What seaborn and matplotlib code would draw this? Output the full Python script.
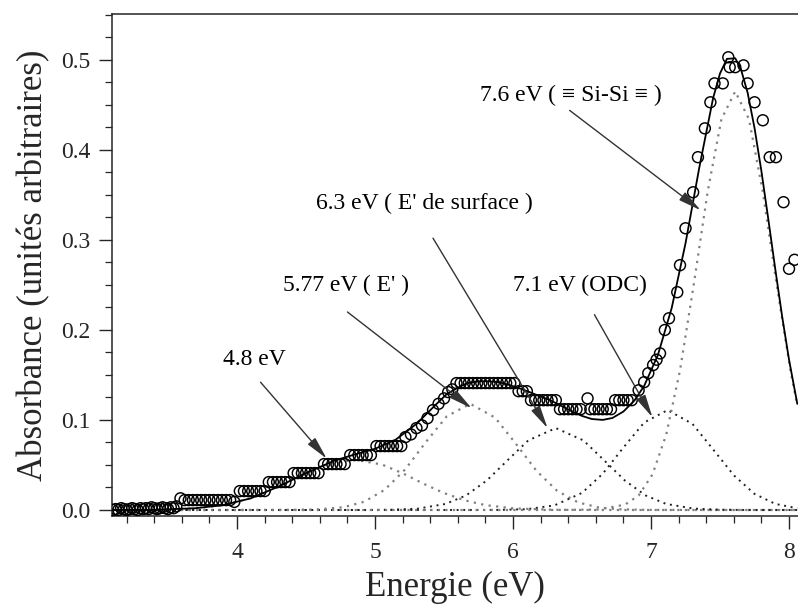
import matplotlib
matplotlib.use("Agg")
import matplotlib.pyplot as plt
from matplotlib.ticker import MultipleLocator, FormatStrFormatter
import seaborn as sns

# measured points (circles)
energy_pts = [3.10, 3.12, 3.14, 3.16, 3.18, 3.20, 3.22, 3.24, 3.26, 3.28, 3.30, 3.32,
              3.34, 3.36, 3.38, 3.40, 3.42, 3.44, 3.46, 3.48, 3.50, 3.52, 3.54, 3.56,
              3.59, 3.62, 3.65, 3.68, 3.71, 3.74, 3.77, 3.80, 3.83, 3.86, 3.89, 3.92, 3.95, 3.98,
              4.02, 4.05, 4.08, 4.11, 4.14, 4.17, 4.20,
              4.23, 4.26, 4.29, 4.32, 4.35, 4.38,
              4.41, 4.44, 4.47, 4.50, 4.53, 4.56, 4.59,
              4.63, 4.66, 4.69, 4.72, 4.75, 4.78,
              4.82, 4.85, 4.88, 4.91, 4.94, 4.97,
              5.01, 5.04, 5.07, 5.10, 5.13, 5.16, 5.19,
              5.22, 5.26, 5.30, 5.34, 5.38, 5.42, 5.46, 5.50, 5.53, 5.56,
              5.59, 5.62, 5.65, 5.68, 5.71, 5.74, 5.77, 5.80, 5.83, 5.86, 5.89, 5.92, 5.95, 5.98, 6.01,
              6.04, 6.07, 6.10,
              6.13, 6.16, 6.19, 6.22, 6.25, 6.28, 6.31,
              6.34, 6.37, 6.40, 6.43, 6.46, 6.49, 6.54,
              6.56, 6.59, 6.62, 6.65, 6.68, 6.71,
              6.74, 6.77, 6.80, 6.83, 6.86,
              6.91, 6.95, 6.98, 7.015, 7.04, 7.065, 7.10, 7.13, 7.19, 7.21, 7.25,
              7.305, 7.34, 7.39, 7.43, 7.46, 7.52, 7.56, 7.57, 7.61, 7.67, 7.70,
              7.75, 7.81, 7.86, 7.905, 7.96, 8.00, 8.04]
absorb_pts = [0.000, 0.001, 0.000, 0.002, 0.001, 0.000, 0.001, 0.002, 0.001, 0.000, 0.002, 0.001,
              0.002, 0.001, 0.003, 0.002, 0.001, 0.002, 0.003, 0.002, 0.001, 0.003, 0.002, 0.004,
              0.013, 0.011, 0.011, 0.011, 0.011, 0.011, 0.011, 0.011, 0.011, 0.011, 0.011, 0.011, 0.011, 0.009,
              0.021, 0.021, 0.021, 0.021, 0.021, 0.021, 0.021,
              0.031, 0.031, 0.031, 0.031, 0.031, 0.031,
              0.041, 0.041, 0.041, 0.041, 0.041, 0.041, 0.041,
              0.051, 0.051, 0.051, 0.051, 0.051, 0.051,
              0.061, 0.061, 0.061, 0.061, 0.061, 0.061,
              0.071, 0.071, 0.071, 0.071, 0.071, 0.071, 0.071,
              0.081, 0.084, 0.091, 0.094, 0.102, 0.111, 0.118, 0.124, 0.131, 0.134,
              0.141, 0.141, 0.141, 0.141, 0.141, 0.141, 0.141, 0.141, 0.141, 0.141, 0.141, 0.141, 0.141, 0.141, 0.141,
              0.132, 0.132, 0.132,
              0.122, 0.122, 0.122, 0.122, 0.122, 0.122, 0.122,
              0.112, 0.112, 0.112, 0.112, 0.112, 0.112, 0.124,
              0.112, 0.112, 0.112, 0.112, 0.112, 0.112,
              0.122, 0.122, 0.122, 0.122, 0.122,
              0.133, 0.142, 0.152, 0.161, 0.167, 0.174, 0.200, 0.213, 0.242, 0.272, 0.313,
              0.353, 0.392, 0.424, 0.453, 0.474, 0.474, 0.503, 0.492, 0.492, 0.494, 0.474,
              0.453, 0.433, 0.392, 0.392, 0.342, 0.268, 0.278]

# fitted total (solid line)
fit_x = [3.1, 3.4, 3.7, 3.9, 4.1, 4.3, 4.5, 4.7, 4.85, 5.0, 5.15, 5.3, 5.45, 5.52, 5.6,
         5.67, 5.75, 5.82, 5.9, 5.97, 6.05, 6.12, 6.2, 6.27, 6.35, 6.42, 6.5, 6.57, 6.65,
         6.72, 6.8, 6.88, 6.95, 7.05, 7.15, 7.25, 7.35, 7.45, 7.5, 7.55, 7.61, 7.65, 7.7,
         7.75, 7.8, 7.85, 7.9, 7.95, 8.0, 8.06]
fit_y = [0.0, 0.0002, 0.002, 0.0054, 0.013, 0.026, 0.041, 0.0545, 0.0616, 0.068, 0.0782,
         0.0957, 0.1185, 0.1288, 0.136, 0.141, 0.143, 0.143, 0.142, 0.139, 0.135, 0.131,
         0.126, 0.1219, 0.1156, 0.1101, 0.1045, 0.1011, 0.1001, 0.1022, 0.1094, 0.1217,
         0.1378, 0.1723, 0.2246, 0.2964, 0.3807, 0.4578, 0.4851, 0.5012, 0.5019, 0.4905,
         0.4636, 0.4244, 0.3763, 0.3229, 0.268, 0.2151, 0.167, 0.1179]

# gaussian components (dotted)
c48_x = [3.1, 3.4, 3.7, 3.9, 4.1, 4.3, 4.5, 4.65, 4.85, 5.05, 5.2, 5.35, 5.5, 5.65,
         5.8, 6.0, 6.3, 6.6, 7.0, 8.06]
c48_y = [0.0, 0.0002, 0.0018, 0.0054, 0.0131, 0.0256, 0.0408, 0.0505, 0.056, 0.0505,
         0.0408, 0.0293, 0.0188, 0.0107, 0.0054, 0.0018, 0.0002, 0.0, 0.0, 0.0]

c577_x = [3.1, 3.97, 4.37, 4.57, 4.77, 4.92, 5.07, 5.22, 5.37, 5.52, 5.69, 5.87, 6.02,
          6.17, 6.32, 6.47, 6.62, 6.77, 6.97, 7.4, 8.06]
c577_y = [0.0, 0.0, 0.0001, 0.0005, 0.003, 0.0091, 0.0224, 0.0454, 0.0758, 0.1041, 0.118,
          0.1026, 0.0737, 0.0435, 0.0212, 0.0085, 0.0028, 0.0008, 0.0001, 0.0, 0.0]

c63_x = [3.1, 4.51, 4.91, 5.11, 5.31, 5.51, 5.66, 5.81, 5.96, 6.11, 6.31, 6.51, 6.66,
         6.81, 6.96, 7.11, 7.31, 7.51, 7.71, 8.06]
c63_y = [0.0, 0.0, 0.0, 0.0003, 0.0015, 0.0067, 0.0162, 0.0328, 0.0552, 0.0773, 0.091,
         0.0773, 0.0552, 0.0328, 0.0162, 0.0067, 0.0015, 0.0003, 0.0, 0.0]

c71_x = [3.1, 5.5, 5.9, 6.1, 6.3, 6.5, 6.65, 6.8, 6.95, 7.12, 7.3, 7.45, 7.6, 7.75, 7.9, 8.06]
c71_y = [0.0, 0.0, 0.0001, 0.0009, 0.0051, 0.019, 0.0403, 0.0694, 0.0972, 0.111, 0.0957,
         0.0673, 0.0385, 0.0179, 0.0068, 0.0019]

c76_x = [3.1, 6.31, 6.61, 6.81, 6.91, 7.01, 7.11, 7.21, 7.31, 7.41, 7.51, 7.61, 7.71,
         7.81, 7.91, 8.01, 8.06]
c76_y = [0.0, 0.0, 0.0005, 0.0058, 0.0161, 0.0394, 0.0837, 0.1552, 0.2508, 0.3534, 0.4342,
         0.465, 0.4342, 0.3534, 0.2508, 0.1552, 0.116]

# labels: text, text anchor (left, middle), arrow start, arrow tip
labels = ["4.8 eV", "5.77 eV ( E' )", "6.3 eV ( E' de surface )", "7.1 eV (ODC)",
          "7.6 eV ( \u2261 Si-Si \u2261 )"]
label_pos = [(3.90, 0.167), (4.33, 0.250), (4.57, 0.341), (6.00, 0.250), (5.76, 0.461)]
arrow_start = [(4.17, 0.142), (4.80, 0.220), (5.42, 0.302), (6.59, 0.217), (6.41, 0.444)]
arrow_tip = [(4.65, 0.057), (5.70, 0.113), (6.25, 0.091), (7.01, 0.103), (7.36, 0.333)]

sns.set_theme(style="ticks")
plt.rcParams['font.family'] = ['Liberation Serif', 'DejaVu Serif']
plt.rcParams['axes.linewidth'] = 1.1

fig = plt.figure(figsize=(7.98, 6.13), dpi=100)
ax = fig.add_axes([0.1404, 0.1582, 0.8596, 0.819])

dot = (0, (1, 2.4))
grey = "#808080"
dark = "#202020"
sns.lineplot(x=c48_x, y=c48_y, ax=ax, color=grey, lw=1.6, linestyle=dot)
sns.lineplot(x=c577_x, y=c577_y, ax=ax, color=grey, lw=1.6, linestyle=dot)
sns.lineplot(x=c63_x, y=c63_y, ax=ax, color=dark, lw=1.4, linestyle=dot)
sns.lineplot(x=c71_x, y=c71_y, ax=ax, color=dark, lw=1.4, linestyle=dot)
sns.lineplot(x=c76_x, y=c76_y, ax=ax, color=grey, lw=1.6, linestyle=dot)
sns.lineplot(x=fit_x, y=fit_y, ax=ax, color="black", lw=1.3)
sns.scatterplot(x=energy_pts, y=absorb_pts, ax=ax, marker="o", s=62,
                facecolor="none", edgecolor="black", linewidth=1.05, zorder=3)

for txt, pos, a0, a1 in zip(labels, label_pos, arrow_start, arrow_tip):
    ax.text(pos[0], pos[1], txt, fontsize=17, ha="left", va="center", color="black")
    ax.annotate("", xy=a1, xytext=a0,
                arrowprops=dict(arrowstyle="-|>,head_length=0.7,head_width=0.15",
                                color="#333333", lw=1.0, mutation_scale=20,
                                shrinkA=0, shrinkB=0))

ax.set_xlim(3.094, 8.065)
ax.set_ylim(-0.0067, 0.5511)
ax.xaxis.set_major_locator(MultipleLocator(1))
ax.xaxis.set_minor_locator(MultipleLocator(0.2))
ax.yaxis.set_major_locator(MultipleLocator(0.1))
ax.yaxis.set_minor_locator(MultipleLocator(0.025))
ax.yaxis.set_major_formatter(FormatStrFormatter('%.1f'))
ax.tick_params(which="major", direction="out", length=9.5, width=1.0, labelsize=17,
               top=False, right=False)
ax.tick_params(which="minor", direction="out", length=5, width=0.9, top=False, right=False)
ax.tick_params(axis="x", which="major", pad=9)
ax.tick_params(axis="y", which="major", pad=6)
ax.spines["right"].set_visible(False)
ax.set_xlabel("Energie (eV)", fontsize=25, labelpad=6)
ax.set_ylabel("Absorbance (unités arbitraires)", fontsize=25, labelpad=8)

fig.savefig("out.png", dpi=100)
